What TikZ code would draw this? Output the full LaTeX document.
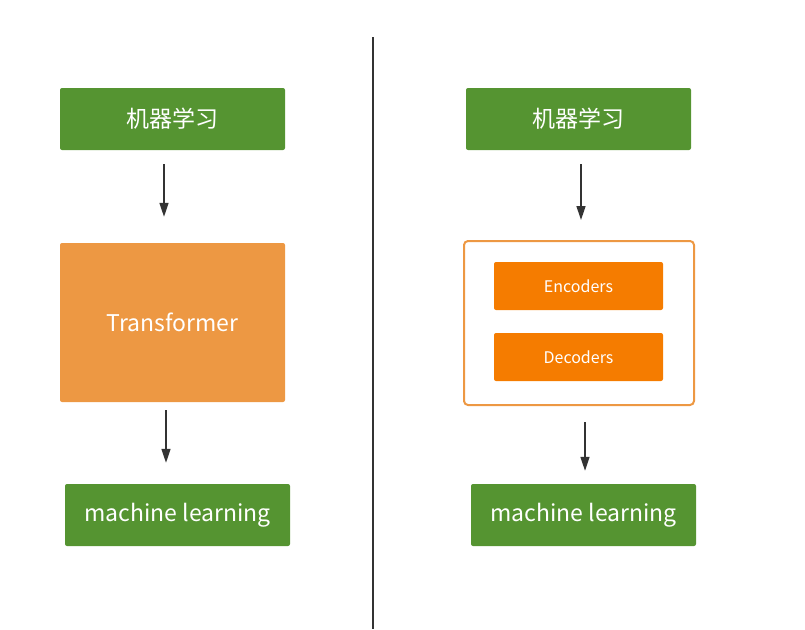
\documentclass[tikz,border=0pt]{standalone}
\usepackage{fontspec}
\setmainfont{Noto Sans CJK SC}
\usetikzlibrary{arrows.meta}
\definecolor{lgreen}{HTML}{559431}
\definecolor{torange}{HTML}{ED9843}
\definecolor{borange}{HTML}{F57C00}
\definecolor{darr}{HTML}{333333}
\begin{document}
\begin{tikzpicture}[x=1pt,y=-1pt,
  box/.style={text=white,rounded corners=2pt,inner sep=0pt,minimum width=225pt},
  greenbox/.style={box,fill=lgreen,minimum height=62pt,font=\fontsize{23}{26}\selectfont},
  tbox/.style={box,fill=torange,minimum height=159pt,font=\fontsize{23}{26}\selectfont},
  orbox/.style={box,fill=borange,minimum width=169pt,minimum height=48pt,font=\fontsize{16}{19}\selectfont},
  frame/.style={draw=torange,line width=2pt,rounded corners=4pt,minimum width=230pt,minimum height=164pt,inner sep=0pt},
  arr/.style={draw=darr,line width=1.4pt,-{Triangle[length=14pt,width=9pt]}}]
\useasboundingbox (0,0) rectangle (805,629);
% left
\node[greenbox] (l1) at (172.5,119) {机器学习};
\node[tbox] (l2) at (172.5,322.5) {Transformer};
\node[greenbox] (l3) at (177.5,515) {machine learning};
\draw[arr] ([xshift=-8.5pt,yshift=-14pt]l1.south) -- ([xshift=-8.5pt,yshift=26pt]l2.north);
\draw[arr] ([xshift=-6.5pt,yshift=-8pt]l2.south) -- ([xshift=-11.5pt,yshift=21pt]l3.north);
% divider
\coordinate (d1) at (373,37); \coordinate (d2) at (373,629);
\draw[draw=darr,line width=1.4pt] (d1) -- (d2);
% right
\node[greenbox] (r1) at (578.5,119) {机器学习};
\node[frame] (fr) at (579,323) {};
\node[orbox] (enc) at (578.5,286) {Encoders};
\node[orbox] (dec) at (578.5,357) {Decoders};
\node[greenbox] (r3) at (583.5,515) {machine learning};
\draw[arr] ([xshift=2.5pt,yshift=-14pt]r1.south) -- ([xshift=2pt,yshift=20pt]fr.north);
\draw[arr] ([xshift=6pt,yshift=-16pt]fr.south) -- ([xshift=1.5pt,yshift=13pt]r3.north);
\end{tikzpicture}
\end{document}
